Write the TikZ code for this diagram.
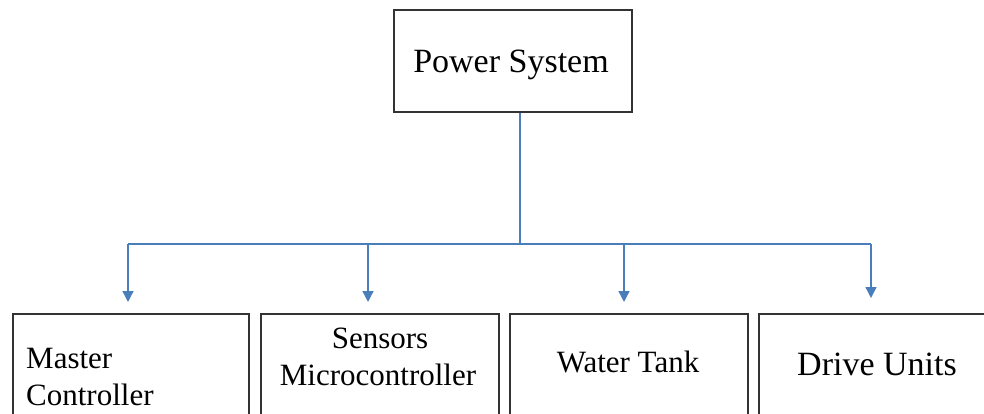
\documentclass[tikz,border=0pt]{standalone}
\usepackage{fontspec}
\setmainfont{Liberation Serif}
\usetikzlibrary{arrows.meta}
\definecolor{wireblue}{HTML}{4A7EBB}
\definecolor{boxline}{HTML}{333333}
\begin{document}
\begin{tikzpicture}[x=1pt,y=-1pt,
  box/.style={draw=boxline,line width=1.7pt,fill=white,inner sep=0pt,
    minimum width=#1,minimum height=140pt,anchor=north west},
  topbox/.style={draw=boxline,line width=1.7pt,inner sep=0pt,
    minimum width=238pt,minimum height=102pt},
  wire/.style={draw=wireblue,line width=1.4pt},
  feed/.style={wire,-{Triangle[width=11pt,length=11pt]}},
  label/.style={anchor=base,inner sep=0pt,font=\fontsize{31}{37}\selectfont}]
\useasboundingbox (0,0) rectangle (984,414);
\clip (0,0) rectangle (984,414);

% top block
\node[topbox] (ps) at (513,61) {};
\node[label,font=\fontsize{34}{40}\selectfont] (pstext) at (511,73) {Power System};

% lower blocks (they run past the lower edge)
\node[box=236pt] (b1) at (12,313) {};
\node[box=238pt] (b2) at (260,313) {};
\node[box=238pt] (b3) at (509,313) {};
\node[box=240pt] (b4) at (758,313) {};

\node[label,anchor=base west] (t1a) at (26,368) {Master};
\node[label,anchor=base west] (t1b) at (26,405) {Controller};
\node[label] (t2a) at (380,348) {Sensors};
\node[label] (t2b) at (378,385) {Microcontroller};
\node[label] (t3) at (628,372) {Water Tank};
\node[label,font=\fontsize{34}{40}\selectfont] (t4) at (877,375) {Drive Units};

% distribution bus
\coordinate (hub) at (520,244);
\coordinate (busL) at (128,244);
\coordinate (busR) at (871,244);
\coordinate (tip1) at (128,302);
\coordinate (tip2) at (368,302);
\coordinate (tip3) at (624,302);
\coordinate (tip4) at (871,298);

\draw[wire] (ps.south -| hub) -- (hub);
\draw[wire] (busL) -- (busR);
\draw[feed] (busL) -- (tip1);
\draw[feed] (tip2 |- hub) -- (tip2);
\draw[feed] (tip3 |- hub) -- (tip3);
\draw[feed] (busR) -- (tip4);
\end{tikzpicture}
\end{document}
